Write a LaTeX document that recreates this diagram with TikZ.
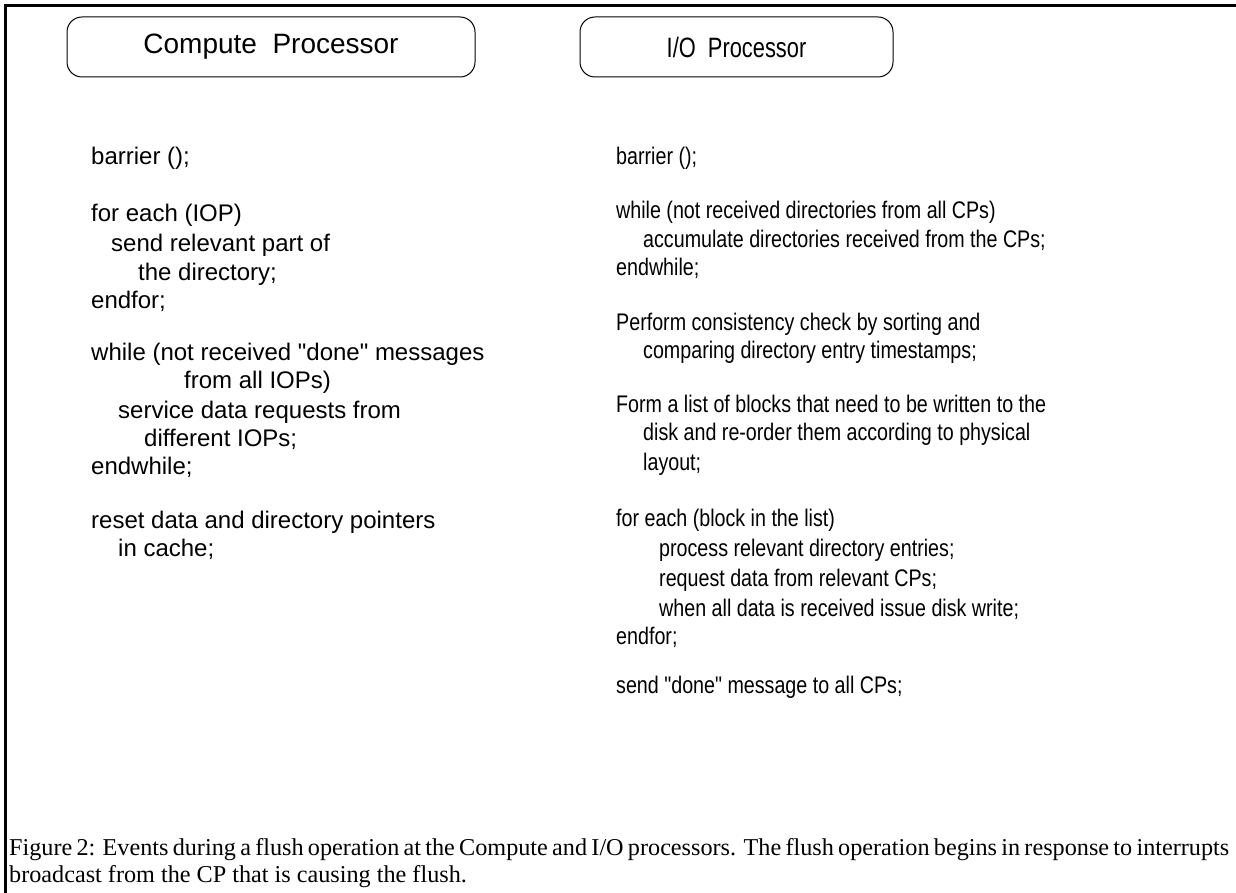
\documentclass[tikz,border=0pt]{standalone}
\usepackage{fontspec}
\setmainfont{Liberation Serif}
\newfontfamily\helv{Liberation Sans}
\usepackage{tikz}

% Helvetica-like body text; the I/O column is set narrower
\newcommand{\bodyfont}{\helv\fontsize{24}{28}\selectfont}
\newcommand{\titlefont}{\helv\fontsize{28}{32}\selectfont}
\newcommand{\narrow}[1]{\scalebox{0.82}[1]{#1}}

\tikzset{
  codeline/.style={anchor=base west, inner sep=0pt, font=\bodyfont},
  titlebox/.style={draw, rounded corners=15pt, line width=1pt,
    minimum height=60pt, inner sep=0pt, font=\titlefont},
  captionline/.style={anchor=base west, inner sep=0pt,
    font=\fontsize{24.2}{27}\selectfont},
}

\begin{document}
\begin{tikzpicture}[x=1pt,y=-1pt]
  \useasboundingbox (0,0) rectangle (1236,893);
  % frame
  \draw[line width=3pt] (5,893) -- (5,5.5) -- (1236,5.5);

  % headings
  \node[titlebox, minimum width=408pt] (cptitle) at (271,47) {Compute\ \ Processor};
  \node[titlebox, minimum width=313pt] (iotitle) at (736.5,47) {\scalebox{0.78}[1]{I/O\ \ Processor}};

  % compute processor
  \node[codeline] (cp1) at (91,165) {barrier ();};
  \node[codeline] (cp2) at (91,222) {for each (IOP)};
  \node[codeline] (cp3) at (111,252) {send relevant part of};
  \node[codeline] (cp4) at (138,280) {the directory;};
  \node[codeline] (cp5) at (91,308) {endfor;};
  \node[codeline] (cp6) at (91,360) {while (not received "done" messages};
  \node[codeline] (cp7) at (184,388) {from all IOPs)};
  \node[codeline] (cp8) at (118,418) {service data requests from};
  \node[codeline] (cp9) at (144,446) {different IOPs;};
  \node[codeline] (cp10) at (91,474) {endwhile;};
  \node[codeline] (cp11) at (91,528) {reset data and directory pointers};
  \node[codeline] (cp12) at (118,556) {in cache;};

  % I/O processor
  \node[codeline] (io1) at (616,165) {\narrow{barrier ();}};
  \node[codeline] (io2) at (616,219) {\narrow{while (not received directories from all CPs)}};
  \node[codeline] (io3) at (643,248) {\narrow{accumulate directories received from the CPs;}};
  \node[codeline] (io4) at (616,276) {\narrow{endwhile;}};
  \node[codeline] (io5) at (616,330) {\narrow{Perform consistency check by sorting and}};
  \node[codeline] (io6) at (643,358) {\narrow{comparing directory entry timestamps;}};
  \node[codeline] (io7) at (616,412) {\narrow{Form a list of blocks that need to be written to the}};
  \node[codeline] (io8) at (643,440) {\narrow{disk and re-order them according to physical}};
  \node[codeline] (io9) at (643,470) {\narrow{layout;}};
  \node[codeline] (io10) at (616,526) {\narrow{for each (block in the list)}};
  \node[codeline] (io11) at (659,556) {\narrow{process relevant directory entries;}};
  \node[codeline] (io12) at (659,586) {\narrow{request data from relevant CPs;}};
  \node[codeline] (io13) at (659,616) {\narrow{when all data is received issue disk write;}};
  \node[codeline] (io14) at (616,644) {\narrow{endfor;}};
  \node[codeline] (io15) at (616,693) {\narrow{send "done" message to all CPs;}};

  % caption
  \node[captionline] (cap1) at (9,855) {\makebox[1220pt][s]{Figure 2: Events during a flush operation at the Compute and I/O processors.  The flush operation begins in response to interrupts}};
  \node[captionline] (cap2) at (9,882) {broadcast from the CP that is causing the flush.};
\end{tikzpicture}
\end{document}
